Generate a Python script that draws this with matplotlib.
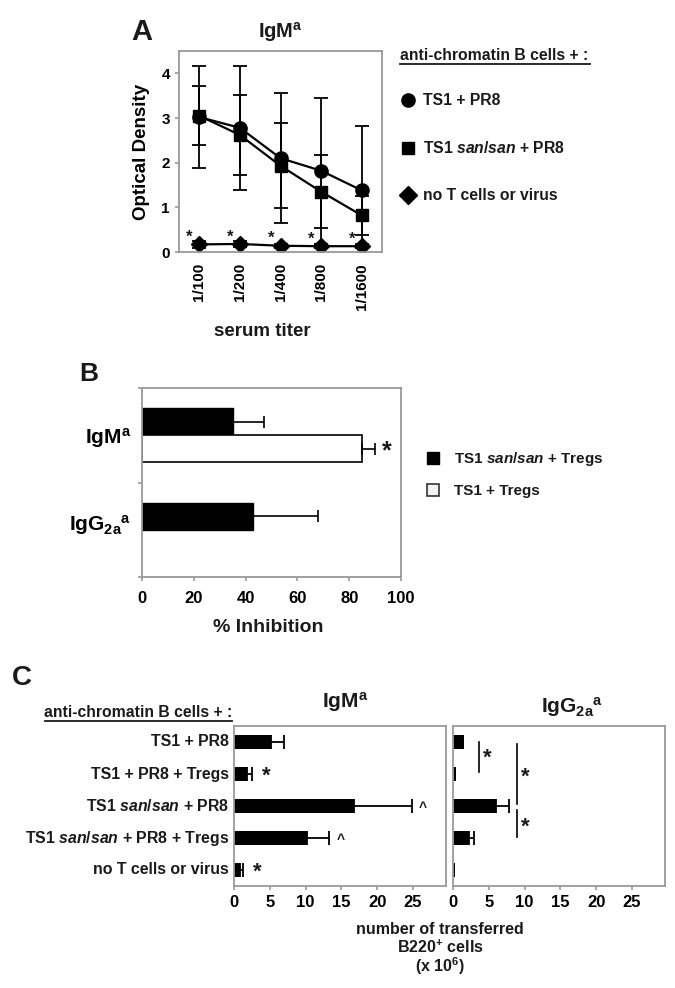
import numpy as np
import matplotlib.pyplot as plt
from matplotlib.lines import Line2D
from matplotlib.patches import Patch

plt.rcParams['font.family'] = ['Liberation Sans', 'DejaVu Sans']
plt.rcParams['font.weight'] = 'bold'
plt.rcParams['axes.labelweight'] = 'bold'
plt.rcParams['mathtext.fontset'] = 'custom'
plt.rcParams['mathtext.rm'] = 'Liberation Sans:bold'
plt.rcParams['mathtext.it'] = 'Liberation Sans:italic:bold'
plt.rcParams['mathtext.bf'] = 'Liberation Sans:bold'
plt.rcParams['text.color'] = '#1a1a1a'

SAN = "$\\it{san}$/$\\it{san}$"

# %% data
# panel A: optical density vs serum titer
titers = ["1/100", "1/200", "1/400", "1/800", "1/1600"]
od_ts1 = [3.02, 2.78, 2.10, 1.82, 1.38]
od_ts1_err = [1.15, 1.39, 1.45, 1.63, 1.44]
od_san = [3.05, 2.62, 1.93, 1.35, 0.82]
od_san_err = [0.66, 0.90, 0.95, 0.82, 0.43]
od_none = [0.17, 0.18, 0.14, 0.13, 0.13]
od_none_err = [0.07, 0.07, 0.05, 0.05, 0.05]
legend_a = ["TS1 + PR8", "TS1 " + SAN + " + PR8", "no T cells or virus"]

# panel B: % inhibition
isotypes = ["IgM$^{\\mathrm{a}}$", "IgG$_{\\mathrm{2a}}{}^{\\mathrm{a}}$"]
inhib_san = [35, 43]
inhib_san_err = [12, 25]
inhib_ts1 = [85, np.nan]
inhib_ts1_err = [5, np.nan]
legend_b = ["TS1 " + SAN + " + Tregs", "TS1 + Tregs"]

# panel C: number of transferred B220+ cells (x 10^6)
groups = ["TS1 + PR8", "TS1 + PR8 + Tregs", "TS1 " + SAN + " + PR8",
          "TS1 " + SAN + " + PR8 + Tregs", "no T cells or virus"]
igm_cells = [5.2, 1.85, 16.8, 10.2, 0.85]
igm_err = [1.75, 0.65, 8.0, 3.1, 0.35]
igm_marks = ["", "*", "^", "^", "*"]
igg_cells = [1.5, 0.45, 6.0, 2.2, 0.25]
igg_err = [0, 0, 1.8, 0.8, 0]

W, H = 675, 988
fig = plt.figure(figsize=(W / 100, H / 100), dpi=100)
GRAY = '#9a9a9a'


def box(l, t, r, b):
    return [l / W, 1 - b / H, (r - l) / W, (b - t) / H]


def txt(x, y, s, **kw):
    kw.setdefault('ha', 'center')
    kw.setdefault('va', 'center')
    fig.text(x / W, 1 - y / H, s, **kw)


def hline(x0, x1, y):
    fig.add_artist(Line2D([x0 / W, x1 / W], [1 - y / H, 1 - y / H], color='#1a1a1a', lw=1.3))


def style(ax):
    for s in ax.spines.values():
        s.set_color(GRAY)
        s.set_linewidth(1.3)
    ax.tick_params(color=GRAY, length=3, width=1.2, labelsize=11)


# %% panel A
axA = fig.add_axes(box(179, 51, 382, 252))
x = np.arange(len(titers))
for vals, err, m, ms in [(od_ts1, od_ts1_err, 'o', 9.5), (od_san, od_san_err, 's', 9),
                         (od_none, od_none_err, 'D', 8)]:
    axA.errorbar(x, vals, yerr=err, color='k', marker=m, ms=ms, lw=1.6,
                 capsize=4.7, elinewidth=1.3, capthick=1.3)
for xi, v in zip(x, od_none):
    axA.text(xi - 0.24, v + 0.16, '*', ha='center', va='center', fontsize=12)
axA.set_xlim(-0.5, 4.5)
axA.set_ylim(0, 4.5)
axA.set_yticks([0, 1, 2, 3, 4])
axA.set_xticks(x)
axA.set_xticklabels(titers, rotation=90)
style(axA)
axA.tick_params(axis='x', length=0, pad=8)
axA.set_ylabel("Optical Density", fontsize=13.5, labelpad=8)
txt(142, 32, "A", fontsize=21)
txt(280, 32, "IgM$^{\\mathrm{a}}$", fontsize=14.5)
txt(262, 332, "serum titer", fontsize=13.5)

txt(400, 55, "anti-chromatin B cells + :", fontsize=11.3, ha='left')
hline(400, 590, 64)
hA = [Line2D([], [], color='k', marker=m, ms=ms, ls='none')
      for m, ms in [('o', 9.5), ('s', 9), ('D', 9)]]
fig.legend(hA, legend_a, loc='upper left', bbox_to_anchor=(401 / W, 1 - 93 / H),
           frameon=False, fontsize=11.3, handlelength=0.95, handletextpad=0.45,
           labelspacing=2.05, borderpad=0, borderaxespad=0)

# %% panel B
axB = fig.add_axes(box(142, 388, 401, 577))
yb = np.array([1, 0])
bh = 0.286
axB.barh(yb + bh / 2, inhib_san, height=bh, color='k', edgecolor='k')
axB.errorbar(inhib_san, yb + bh / 2, xerr=[np.zeros(2), inhib_san_err], fmt='none',
             ecolor='k', capsize=4, elinewidth=1.2, capthick=1.2)
axB.barh(yb - bh / 2, inhib_ts1, height=bh, color='white', edgecolor='k', linewidth=1.2)
axB.errorbar(inhib_ts1, yb - bh / 2, xerr=[np.zeros(2), inhib_ts1_err], fmt='none',
             ecolor='k', capsize=4, elinewidth=1.2, capthick=1.2)
axB.text(inhib_ts1[0] + inhib_ts1_err[0] + 4.5, yb[0] - bh / 2 - 0.03, '*',
         ha='center', va='center', fontsize=18)
axB.set_xlim(0, 100)
axB.set_ylim(-0.5, 1.5)
axB.set_xticks(np.arange(0, 101, 20))
axB.set_yticks([-0.5, 0.5, 1.5])
axB.set_yticklabels([])
axB.set_yticks(yb + np.array([0, 0.08]), minor=True)
axB.set_yticklabels(isotypes, minor=True, fontsize=15)
style(axB)
axB.tick_params(axis='y', which='minor', length=0, pad=8)
axB.tick_params(axis='x', labelsize=12, pad=7)
txt(89, 374, "B", fontsize=19)
txt(268, 628, "% Inhibition", fontsize=14)

hB = [Patch(facecolor='k', edgecolor='k'), Patch(facecolor='#f2f2f2', edgecolor='#333333', lw=1.2)]
fig.legend(hB, legend_b, loc='upper left', bbox_to_anchor=(427 / W, 1 - 450 / H),
           frameon=False, fontsize=11, handlelength=0.8, handleheight=0.8,
           handletextpad=0.95, labelspacing=1.05, borderpad=0, borderaxespad=0)

# %% panel C
yc = np.arange(len(groups))
axC1 = fig.add_axes(box(234, 726, 446, 886))
axC2 = fig.add_axes(box(453, 726, 665, 886))
for ax, vals, err in [(axC1, igm_cells, igm_err), (axC2, igg_cells, igg_err)]:
    ax.barh(yc, vals, height=0.44, color='k')
    e = np.array(err, dtype=float)
    sel = e > 0
    ax.errorbar(np.array(vals)[sel], yc[sel], xerr=[np.zeros(sel.sum()), e[sel]], fmt='none',
                ecolor='k', capsize=4.7, elinewidth=1.3, capthick=1.3)
    ax.set_xlim(0, 29.6)
    ax.set_ylim(4.5, -0.5)
    ax.set_xticks(np.arange(0, 26, 5))
    ax.set_yticks([])
    style(ax)
    ax.tick_params(axis='x', labelsize=12)

for yi, v, e, mk in zip(yc, igm_cells, igm_err, igm_marks):
    if mk == '*':
        axC1.text(v + e + 2.0, yi + 0.08, mk, ha='center', va='center', fontsize=16)
    elif mk == '^':
        axC1.text(v + e + 1.6, yi + 0.05, mk, ha='center', va='center', fontsize=10)

# significance brackets, right panel
for xs, y0, y1, ys in [(3.6, 0.0, 0.94, 0.5), (8.9, 0.06, 1.94, 1.1), (8.9, 2.13, 2.97, 2.65)]:
    axC2.plot([xs, xs], [y0, y1], color='k', lw=1.2)
    axC2.text(xs + 1.2, ys, '*', ha='center', va='center', fontsize=16)

for yi, g in zip(yc, groups):
    axC1.text(-0.7, yi, g, ha='right', va='center', fontsize=11.4)

txt(22, 678, "C", fontsize=20)
txt(232, 712, "anti-chromatin B cells + :", fontsize=11.3, ha='right')
hline(45, 232, 721)
txt(345, 702, "IgM$^{\\mathrm{a}}$", fontsize=15)
txt(572, 707, "IgG$_{\\mathrm{2a}}{}^{\\mathrm{a}}$", fontsize=15)
txt(440, 929, "number of transferred", fontsize=11.5)
txt(440, 947, "B220$^{+}$ cells", fontsize=11.5)
txt(440, 966, "(x 10$^{\\mathrm{6}}$)", fontsize=11.5)

fig.savefig("out.png", dpi=100)
